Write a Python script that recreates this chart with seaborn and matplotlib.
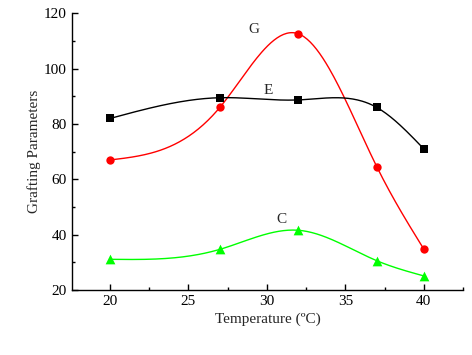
import numpy as np
import pandas as pd
import matplotlib
matplotlib.use('Agg')
import matplotlib.pyplot as plt
import seaborn as sns
from matplotlib.ticker import MultipleLocator

temperature = [20, 27, 32, 37, 40]
g_values = [67.0, 86.0, 112.6, 64.6, 34.8]
e_values = [82.0, 89.5, 88.7, 86.0, 71.0]
c_values = [31.1, 34.7, 41.6, 30.6, 25.1]


def natural_spline(x, y, n=200):
    # natural cubic spline, no scipy needed
    x = np.asarray(x, float)
    y = np.asarray(y, float)
    k = len(x)
    h = np.diff(x)
    A = np.zeros((k, k))
    b = np.zeros(k)
    A[0, 0] = A[-1, -1] = 1
    for i in range(1, k - 1):
        A[i, i - 1] = h[i - 1]
        A[i, i] = 2 * (h[i - 1] + h[i])
        A[i, i + 1] = h[i]
        b[i] = 6 * ((y[i + 1] - y[i]) / h[i] - (y[i] - y[i - 1]) / h[i - 1])
    m = np.linalg.solve(A, b)
    xs = np.linspace(x[0], x[-1], n)
    idx = np.clip(np.searchsorted(x, xs) - 1, 0, k - 2)
    t0 = x[idx]
    t1 = x[idx + 1]
    hh = t1 - t0
    ys = (m[idx] * (t1 - xs) ** 3 / (6 * hh) + m[idx + 1] * (xs - t0) ** 3 / (6 * hh)
          + (y[idx] / hh - m[idx] * hh / 6) * (t1 - xs)
          + (y[idx + 1] / hh - m[idx + 1] * hh / 6) * (xs - t0))
    return xs, ys


sns.set_style('white')
plt.rcParams['font.family'] = ['Liberation Serif', 'DejaVu Serif']

fig = plt.figure(figsize=(4.72, 3.55), dpi=100)
ax = fig.add_axes([0.152, 0.183, 0.829, 0.7795])

series = [
    ('G', g_values, '#ff0000', 'o', 6),
    ('E', e_values, '#000000', 's', 5.5),
    ('C', c_values, '#00ff00', '^', 7),
]
for name, vals, col, mk, ms in series:
    xs, ys = natural_spline(temperature, vals)
    sns.lineplot(x=xs, y=ys, ax=ax, color=col, linewidth=1, sort=False)
    sns.scatterplot(x=temperature, y=vals, ax=ax, color=col, marker=mk,
                    s=ms ** 2, linewidth=0, zorder=3)

ax.text(29.2, 114, 'G', fontsize=11, ha='center', va='center')
ax.text(30.1, 92, 'E', fontsize=11, ha='center', va='center')
ax.text(30.9, 45.6, 'C', fontsize=11, ha='center', va='center')

ax.set_xlim(17.56, 42.5)
ax.set_ylim(20, 120)
ax.xaxis.set_major_locator(MultipleLocator(5))
ax.xaxis.set_minor_locator(MultipleLocator(2.5))
ax.yaxis.set_major_locator(MultipleLocator(20))
ax.yaxis.set_minor_locator(MultipleLocator(10))
ax.tick_params(which='both', direction='in', width=1, colors='black', labelsize=11)
ax.tick_params(which='major', length=4)
ax.tick_params(which='minor', length=2.5)
ax.tick_params(bottom=True, left=True, which='both')
sns.despine(ax=ax)
for s in ['left', 'bottom']:
    ax.spines[s].set_color('black')
    ax.spines[s].set_linewidth(1)

ax.set_xlabel('Temperature (ºC)', fontsize=11, labelpad=3)
ax.set_ylabel('Grafting Parameters', fontsize=11, labelpad=2)

fig.savefig('out.png', dpi=100)
